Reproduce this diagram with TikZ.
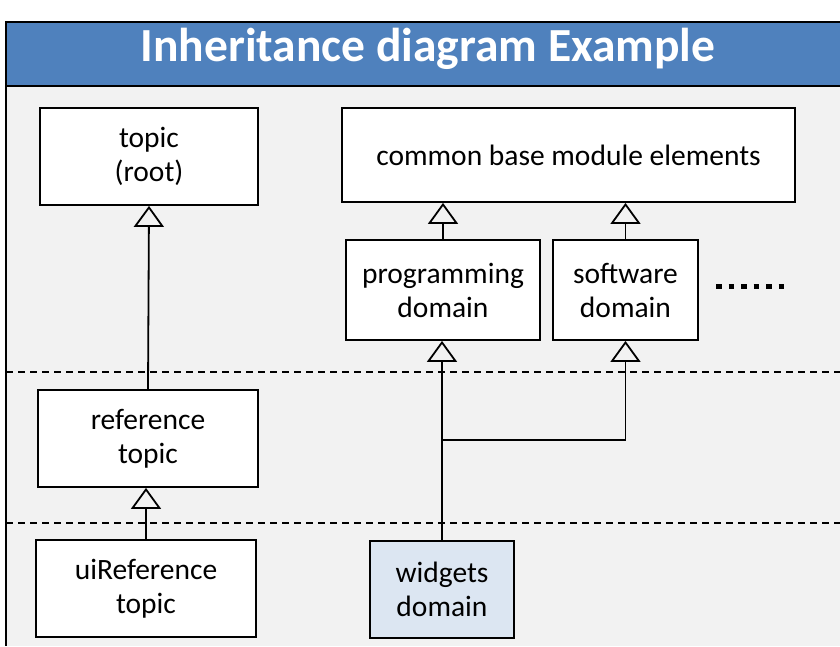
\documentclass[tikz,border=0pt]{standalone}
\usepackage{fontspec}
\setmainfont{Carlito}
\usetikzlibrary{arrows.meta}

\definecolor{headblue}{HTML}{4F81BD}
\definecolor{panelgray}{HTML}{F2F2F2}
\definecolor{widgetblue}{HTML}{DCE6F2}

\begin{document}
\begin{tikzpicture}[
x=1pt, y=-1pt,
classbox/.style={
rectangle,
draw,
line width=1.8pt,
fill=white,
align=center,
inner sep=0 pt,
font=\fontsize{29.5}{34}\selectfont,
},
inherits/.style={
line width=1.8pt,
-{Triangle[open, width=30pt, length=21pt, line width=1.8pt]},
},
layer/.style={line width=1.4pt, dash pattern=on 7pt off 5pt},
]
\useasboundingbox (0,0) rectangle (840,646);

% frame and header
\fill[panelgray] (6,86) rectangle (840,646);
\fill[headblue] (6,22) rectangle (840,86);
\draw[line width=1.8pt] (840,22) -- (6,22) -- (6,646);
\draw[line width=1.3pt] (6,86) -- (840,86);
\node[text=white, font=\fontsize{47.5}{50}\bfseries\selectfont] (title)
at (428,49) {Inheritance diagram Example};

% layer separators
\draw[layer] (6,372) -- (840,372);
\draw[layer] (6,523) -- (840,523);

% class boxes
\node [classbox, minimum width=218pt, minimum height=97pt] at (149,156.5) (root)
{topic\\(root)};
\node [classbox, minimum width=453pt, minimum height=94pt] at (568.5,155) (common)
{common base module elements};
\node [classbox, minimum width=194pt, minimum height=100pt] at (443,290) (prog)
{programming\\domain};
\node [classbox, minimum width=145pt, minimum height=100pt] at (625.5,290) (soft)
{software\\domain};
\node [classbox, minimum width=220pt, minimum height=97pt] at (148,438.5) (ref)
{reference\\topic};
\node [classbox, minimum width=220pt, minimum height=97pt] at (146,588.5) (uiref)
{uiReference\\topic};
\node [classbox, fill=widgetblue, minimum width=144pt, minimum height=97pt] at (442,589.5) (widgets)
{widgets\\domain};

% more domains
\coordinate (more1) at (716,286);
\coordinate (more2) at (787,286);
\draw[line width=5pt, dash pattern=on 5.5pt off 7pt] (more1) -- (more2);

% inheritance
\draw[inherits] (ref.north) -- (root.south);
\draw[inherits] (uiref.north) -- (uiref.north |- ref.south);
\draw[inherits] (prog.north) -- (prog.north |- common.south);
\draw[inherits] (soft.north) -- (soft.north |- common.south);
\draw[inherits] (widgets.north) -- (widgets.north |- prog.south);
\coordinate (split) at (442,440);
\draw[inherits] (split) -| (soft.south);

\end{tikzpicture}
\end{document}
